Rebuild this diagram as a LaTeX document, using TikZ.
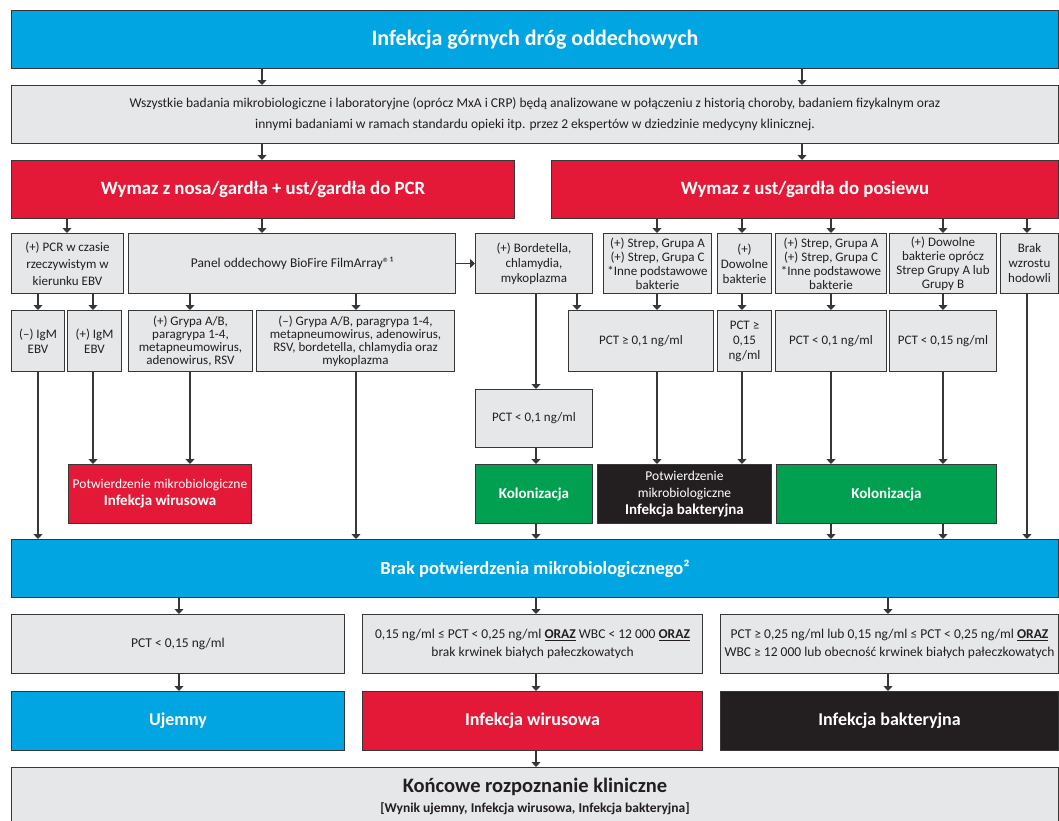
\documentclass[tikz,border=0pt]{standalone}
\usepackage{fontspec}
\setmainfont{Carlito}
\usetikzlibrary{arrows.meta}
\definecolor{cblue}{RGB}{0,165,226}
\definecolor{cred}{RGB}{227,25,55}
\definecolor{cgreen}{RGB}{0,160,80}
\definecolor{cblack}{RGB}{35,31,32}
\definecolor{cgray}{RGB}{230,231,232}
\definecolor{cline}{RGB}{55,55,55}
\definecolor{ctxt}{RGB}{35,31,32}
\newcommand{\mybox}[7]{\node[#1, minimum width=#4-#2, minimum height=#5-#3] (#6) at (#2,#3) {#7};}
\tikzset{
  basebox/.style={draw=cline, line width=1pt, anchor=north west, inner sep=0pt, align=center},
  gbox/.style={basebox, fill=cgray, text=ctxt, font=\fontsize{13}{15}\selectfont},
  bluebox/.style={basebox, fill=cblue, text=white},
  redbox/.style={basebox, fill=cred, text=white},
  greenbox/.style={basebox, fill=cgreen, text=white},
  blackbox/.style={basebox, fill=cblack, text=white},
  arr/.style={draw=cline, line width=1.1pt, -{Triangle[width=9pt,length=5pt]}},
}
\begin{document}
\begin{tikzpicture}[x=1pt,y=-1pt]
\fill[white] (0,0) rectangle (1059,820);
\path[use as bounding box] (0,0) rectangle (1059,820);
\clip (0,0) rectangle (1059,820);
% column coordinates
\foreach \c in {38,67,93,179,190,262,356,536,577,657,742,802,831,888,943,1027}{\coordinate (x\c) at (\c,0);}
% level 1-2
\mybox{bluebox, font=\fontsize{22}{26}\bfseries}{11}{10}{1058}{68}{top}{Infekcja górnych dróg oddechowych}
\mybox{gbox, font=\fontsize{13.5}{21}\selectfont}{11}{85}{1058}{143}{info}{Wszystkie badania mikrobiologiczne i laboratoryjne (oprócz MxA i CRP) będą analizowane w połączeniu z historią choroby, badaniem fizykalnym oraz\\innymi badaniami w ramach standardu opieki itp. przez 2 ekspertów w dziedzinie medycyny klinicznej.}
% level 3 red
\mybox{redbox, font=\fontsize{18.8}{22}\bfseries}{11}{160}{514}{218}{pcrhead}{Wymaz z nosa/gardła + ust/gardła do PCR}
\mybox{redbox, font=\fontsize{18.8}{22}\bfseries}{551}{160}{1058}{218}{culthead}{Wymaz z ust/gardła do posiewu}
% level 4
\mybox{gbox, font=\fontsize{13}{17}\selectfont}{11}{233}{123}{293}{pcr}{(+) PCR w czasie\\rzeczywistym w\\kierunku EBV}
\mybox{gbox, font=\fontsize{13.4}{15}\selectfont}{128}{233}{455}{293}{panel}{Panel oddechowy BioFire FilmArray®¹}
\mybox{gbox}{475}{233}{592}{293}{bord}{(+) Bordetella,\\chlamydia,\\mykoplazma}
\mybox{gbox, font=\fontsize{13}{14}\selectfont}{603}{233}{711}{293}{strepa}{(+) Strep, Grupa A\\(+) Strep, Grupa C\\*Inne podstawowe\\bakterie}
\mybox{gbox}{717}{233}{771}{293}{dowolne}{(+)\\Dowolne\\bakterie}
\mybox{gbox, font=\fontsize{13}{14}\selectfont}{775}{233}{886}{293}{strepb}{(+) Strep, Grupa A\\(+) Strep, Grupa C\\*Inne podstawowe\\bakterie}
\mybox{gbox, font=\fontsize{13}{14}\selectfont}{889}{233}{996}{293}{oprocz}{(+) Dowolne\\bakterie oprócz\\Strep Grupy A lub\\Grupy B}
\mybox{gbox}{1000}{233}{1058}{293}{brak}{Brak\\wzrostu\\hodowli}
% level 5
\mybox{gbox}{11}{310}{64}{371}{igmneg}{(–) IgM\\EBV}
\mybox{gbox}{67}{310}{121}{371}{igmpos}{(+) IgM\\EBV}
\mybox{gbox, font=\fontsize{13}{13}\selectfont}{128}{310}{252}{371}{gryppos}{(+) Grypa A/B,\\paragrypa 1-4,\\metapneumowirus,\\adenowirus, RSV}
\mybox{gbox, font=\fontsize{13}{13}\selectfont}{256}{310}{454}{371}{grypneg}{(–) Grypa A/B, paragrypa 1-4,\\metapneumowirus, adenowirus,\\RSV, bordetella, chlamydia oraz\\mykoplazma}
\mybox{gbox}{568}{310}{713}{371}{pcta}{PCT ≥ 0,1 ng/ml}
\mybox{gbox}{717}{310}{771}{371}{pctb}{PCT ≥\\0,15\\ng/ml}
\mybox{gbox}{775}{310}{886}{371}{pctc}{PCT < 0,1 ng/ml}
\mybox{gbox}{889}{310}{996}{371}{pctd}{PCT < 0,15 ng/ml}
\mybox{gbox}{475}{389}{592}{447}{pcte}{PCT < 0,1 ng/ml}
% level 6
\mybox{redbox, font=\fontsize{13.5}{17}\selectfont}{68}{464}{251}{523}{virconf}{Potwierdzenie mikrobiologiczne\\{\fontsize{15}{17}\bfseries Infekcja wirusowa}}
\mybox{greenbox, font=\fontsize{15}{17}\bfseries}{475}{464}{592}{523}{kola}{Kolonizacja}
\mybox{blackbox, font=\fontsize{13.5}{17}\selectfont}{597}{464}{771}{523}{bactconf}{Potwierdzenie\\mikrobiologiczne\\{\fontsize{15}{17}\bfseries Infekcja bakteryjna}}
\mybox{greenbox, font=\fontsize{15}{17}\bfseries}{776}{464}{996}{523}{kolb}{Kolonizacja}
% level 7
\mybox{bluebox, font=\fontsize{18.5}{22}\bfseries}{11}{539}{1058}{597}{nomicro}{Brak potwierdzenia mikrobiologicznego²}
% level 8
\mybox{gbox, font=\fontsize{13.5}{18}\selectfont}{11}{614}{344}{673}{crita}{PCT < 0,15 ng/ml}
\mybox{gbox, font=\fontsize{13.5}{18}\selectfont}{362}{614}{702}{673}{critb}{0,15 ng/ml ≤ PCT < 0,25 ng/ml \textbf{\underline{ORAZ}} WBC < 12 000 \textbf{\underline{ORAZ}}\\brak krwinek białych pałeczkowatych}
\mybox{gbox, font=\fontsize{13.5}{18}\selectfont}{720}{614}{1058}{673}{critc}{PCT ≥ 0,25 ng/ml lub 0,15 ng/ml ≤ PCT < 0,25 ng/ml \textbf{\underline{ORAZ}}\\WBC ≥ 12 000 lub obecność krwinek białych pałeczkowatych}
% level 9
\mybox{bluebox, font=\fontsize{18}{22}\bfseries}{11}{691}{344}{750}{neg}{Ujemny}
\mybox{redbox, font=\fontsize{18}{22}\bfseries}{362}{691}{702}{750}{vir}{Infekcja wirusowa}
\mybox{blackbox, font=\fontsize{18}{22}\bfseries}{720}{691}{1058}{750}{bac}{Infekcja bakteryjna}
% final
\mybox{gbox, font=\fontsize{20.5}{21}\bfseries}{11}{767}{1058}{825}{final}{Końcowe rozpoznanie kliniczne\\[-1pt]{\fontsize{13.5}{15}\bfseries [Wynik ujemny, Infekcja wirusowa, Infekcja bakteryjna]}}
% connectors
\draw[arr] (top.south -| x262) -- (info.north -| x262);
\draw[arr] (top.south -| x802) -- (info.north -| x802);
\draw[arr] (info.south -| x262) -- (pcrhead.north -| x262);
\draw[arr] (info.south -| x802) -- (culthead.north -| x802);
\draw[arr] (pcrhead.south -| x67) -- (pcr.north -| x67);
\draw[arr] (pcrhead.south -| x262) -- (panel.north -| x262);
\draw[arr] (panel.east) -- (bord.west);
\draw[arr] (culthead.south -| x657) -- (strepa.north -| x657);
\draw[arr] (culthead.south -| x742) -- (dowolne.north -| x742);
\draw[arr] (culthead.south -| x831) -- (strepb.north -| x831);
\draw[arr] (culthead.south -| x943) -- (oprocz.north -| x943);
\draw[arr] (culthead.south -| x1027) -- (brak.north -| x1027);
\draw[arr] (pcr.south -| x38) -- (igmneg.north -| x38);
\draw[arr] (pcr.south -| x93) -- (igmpos.north -| x93);
\draw[arr] (panel.south -| x190) -- (gryppos.north -| x190);
\draw[arr] (panel.south -| x356) -- (grypneg.north -| x356);
\draw[arr] (bord.south -| x577) -- (pcta.north -| x577);
\draw[arr] (bord.south -| x536) -- (pcte.north -| x536);
\draw[arr] (strepa.south -| x657) -- (pcta.north -| x657);
\draw[arr] (dowolne.south -| x742) -- (pctb.north -| x742);
\draw[arr] (strepb.south -| x831) -- (pctc.north -| x831);
\draw[arr] (oprocz.south -| x943) -- (pctd.north -| x943);
\draw[arr] (igmneg.south -| x38) -- (nomicro.north -| x38);
\draw[arr] (igmpos.south -| x93) -- (virconf.north -| x93);
\draw[arr] (gryppos.south -| x190) -- (virconf.north -| x190);
\draw[arr] (grypneg.south -| x356) -- (nomicro.north -| x356);
\draw[arr] (pcte.south -| x536) -- (kola.north -| x536);
\draw[arr] (pcta.south -| x657) -- (bactconf.north -| x657);
\draw[arr] (pctb.south -| x742) -- (bactconf.north -| x742);
\draw[arr] (pctc.south -| x831) -- (kolb.north -| x831);
\draw[arr] (pctd.south -| x943) -- (kolb.north -| x943);
\draw[arr] (kola.south -| x536) -- (nomicro.north -| x536);
\draw[arr] (kolb.south -| x831) -- (nomicro.north -| x831);
\draw[arr] (kolb.south -| x943) -- (nomicro.north -| x943);
\draw[arr] (brak.south -| x1027) -- (nomicro.north -| x1027);
\draw[arr] (nomicro.south -| x179) -- (crita.north -| x179);
\draw[arr] (nomicro.south -| x536) -- (critb.north -| x536);
\draw[arr] (nomicro.south -| x888) -- (critc.north -| x888);
\draw[arr] (crita.south -| x179) -- (neg.north -| x179);
\draw[arr] (critb.south -| x536) -- (vir.north -| x536);
\draw[arr] (critc.south -| x888) -- (bac.north -| x888);
\draw[arr] (vir.south -| x536) -- (final.north -| x536);
\end{tikzpicture}
\end{document}
